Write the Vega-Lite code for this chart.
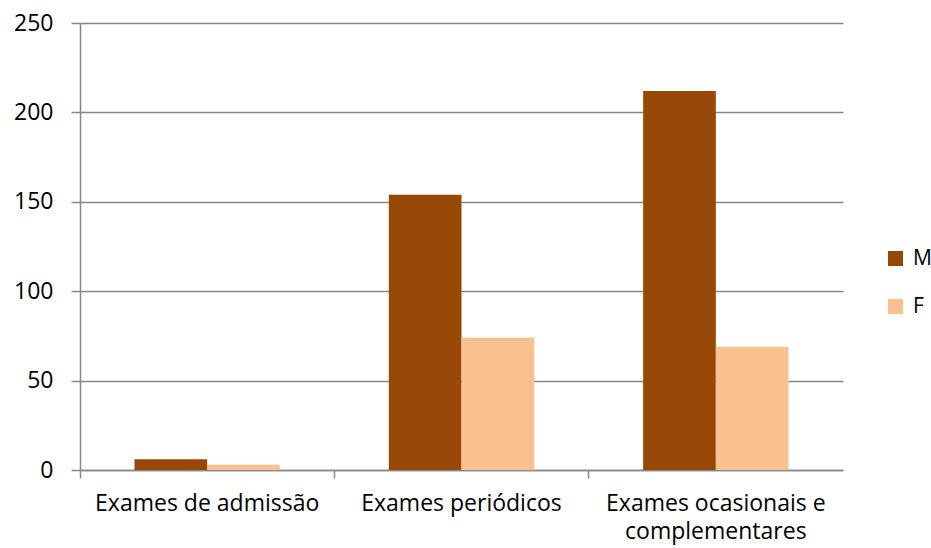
{
  "$schema": "https://vega.github.io/schema/vega-lite/v6.json",
  "width": 763,
  "height": 447,
  "autosize": {"type": "none"},
  "padding": {"left": 80, "top": 23, "right": 88, "bottom": 78},
  "background": "white",
  "config": {
    "view": {"stroke": null},
    "font": "Open Sans",
    "axis": {"labelFont": "Open Sans", "labelColor": "#000000", "labelFontSize": 23, "domainColor": "#888888", "tickColor": "#888888", "gridColor": "#888888", "domainWidth": 1.5, "tickWidth": 1.5, "gridWidth": 1.5}
  },
  "data": {
    "values": [
      {"exame": "Exames de admissão", "sexo": "M", "valor": 6},
      {"exame": "Exames de admissão", "sexo": "F", "valor": 3},
      {"exame": "Exames periódicos", "sexo": "M", "valor": 154},
      {"exame": "Exames periódicos", "sexo": "F", "valor": 74},
      {"exame": "Exames ocasionais e complementares", "sexo": "M", "valor": 212},
      {"exame": "Exames ocasionais e complementares", "sexo": "F", "valor": 69}
    ]
  },
  "mark": {"type": "bar"},
  "encoding": {
    "x": {
      "field": "exame",
      "type": "nominal",
      "sort": null,
      "scale": {"paddingInner": 0, "paddingOuter": 0},
      "axis": {
        "title": null,
        "labelAngle": 0,
        "bandPosition": 0,
        "tickSize": 8,
        "labelPadding": 14,
        "labelLimit": 0,
        "labelLineHeight": 28,
        "labelBaseline": "top",
        "labelExpr": "datum.label == 'Exames ocasionais e complementares' ? ['Exames ocasionais e', 'complementares'] : datum.label"
      }
    },
    "xOffset": {
      "field": "sexo",
      "type": "nominal",
      "sort": ["M", "F"],
      "scale": {"paddingInner": 0, "paddingOuter": 0.75}
    },
    "y": {
      "field": "valor",
      "type": "quantitative",
      "scale": {"domain": [0, 250], "nice": false},
      "axis": {
        "title": null,
        "values": [0, 50, 100, 150, 200, 250],
        "tickSize": 9,
        "labelPadding": 18,
        "grid": true
      }
    },
    "color": {
      "field": "sexo",
      "type": "nominal",
      "sort": ["M", "F"],
      "scale": {"domain": ["M", "F"], "range": ["#974706", "#FAC090"]},
      "legend": {
        "title": null,
        "orient": "none",
        "legendX": 805,
        "legendY": 225,
        "padding": 0,
        "symbolType": "square",
        "symbolSize": 225,
        "symbolStrokeWidth": 0,
        "labelFont": "Open Sans",
        "labelFontSize": 21,
        "labelColor": "#000000",
        "labelOffset": 7,
        "rowPadding": 26
      }
    }
  }
}
